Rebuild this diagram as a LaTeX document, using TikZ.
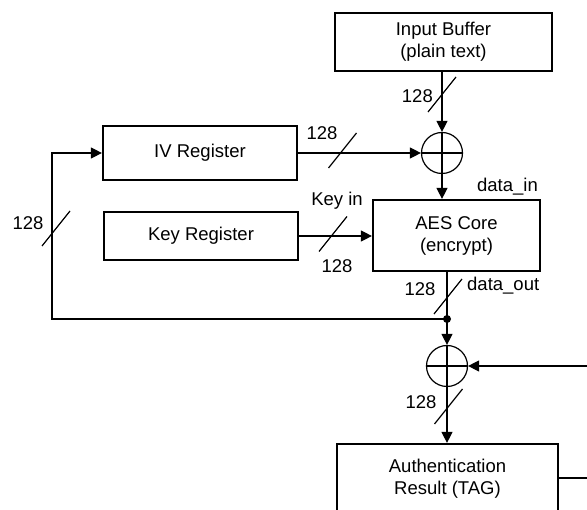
\documentclass[tikz,border=0pt]{standalone}
\usepackage{fontspec}
\setmainfont{Liberation Sans}
\usetikzlibrary{arrows.meta}
\begin{document}
\begin{tikzpicture}[x=1pt,y=-1pt,
 box/.style={draw,line width=2.2pt,inner sep=0pt,align=center,font=\fontsize{18.5}{22}\selectfont},
 lbl/.style={inner sep=0pt,font=\fontsize{18.5}{22}\selectfont},
 wire/.style={line width=1.2pt},
 arr/.style={wire,-{Triangle[length=11pt,width=11pt]}},
 xorc/.style={draw,circle,line width=1.2pt,minimum size=41pt,inner sep=0pt}]
\useasboundingbox (0,0) rectangle (587,510);
\clip (0,0) rectangle (587,510);
% boxes
\node[box,minimum width=217pt,minimum height=58pt] (ib) at (443.5,42) {Input Buffer\\(plain text)};
\node[box,minimum width=194pt,minimum height=54pt] (iv) at (200,153) {IV Register};
\node[box,minimum width=194pt,minimum height=48pt] (key) at (201,236) {Key Register};
\node[box,minimum width=167pt,minimum height=71pt] (aes) at (456.5,235.5) {AES Core\\(encrypt)};
\node[box,minimum width=221pt,minimum height=70pt] (auth) at (447.5,479) {Authentication\\Result (TAG)};
% xor circles
\node[xorc] (x1) at (442,153) {};
\node[xorc] (x2) at (447,366) {};
\draw[wire] (x1.north) -- (x1.south) (x1.west) -- (x1.east);
\draw[wire] (x2.north) -- (x2.south) (x2.west) -- (x2.east);
% coordinates
\coordinate (dot) at (447,319);
\coordinate (lc) at (52,319);
\coordinate (rin) at (587,366);
\coordinate (rout) at (587,478);
% connectors
\draw[arr] (x1 |- ib.south) -- (x1.north);
\draw[arr] (x1.south) -- (x1 |- aes.north);
\draw[arr] (iv.east) -- (x1.west);
\draw[arr] (key.east) -- (aes.west |- key.east);
\draw[wire] (dot |- aes.south) -- (dot);
\draw[arr] (dot) -- (x2.north);
\draw[arr] (dot) -- (lc) -- (lc |- iv.west) -- (iv.west);
\draw[arr] (rin) -- (x2.east);
\draw[arr] (x2.south) -- (x2 |- auth.north);
\draw[wire] (auth.east |- rout) -- (rout);
\fill (dot) circle (4);
% bus slashes
\draw[wire] (442,94.5) ++(-14,17.5) -- ++(28,-35);
\draw[wire] (342.5,150.5) ++(-14,17.5) -- ++(28,-35);
\draw[wire] (333,234) ++(-14,17.5) -- ++(28,-35);
\draw[wire] (448,296.5) ++(-14,17.5) -- ++(28,-35);
\draw[wire] (448.5,406.5) ++(-14,17.5) -- ++(28,-35);
\draw[wire] (56,228.5) ++(-14,17.5) -- ++(28,-35);
% labels
\node[lbl,anchor=east] at (433,96) {128};
\node[lbl] at (322,133) {128};
\node[lbl] at (337,201) {Key in};
\node[lbl] at (337,266) {128};
\node[lbl,anchor=east] at (538,187) {data\_in};
\node[lbl] at (420,289) {128};
\node[lbl,anchor=west] at (467,286) {data\_out};
\node[lbl] at (421,402) {128};
\node[lbl] at (28,223) {128};
\end{tikzpicture}
\end{document}
